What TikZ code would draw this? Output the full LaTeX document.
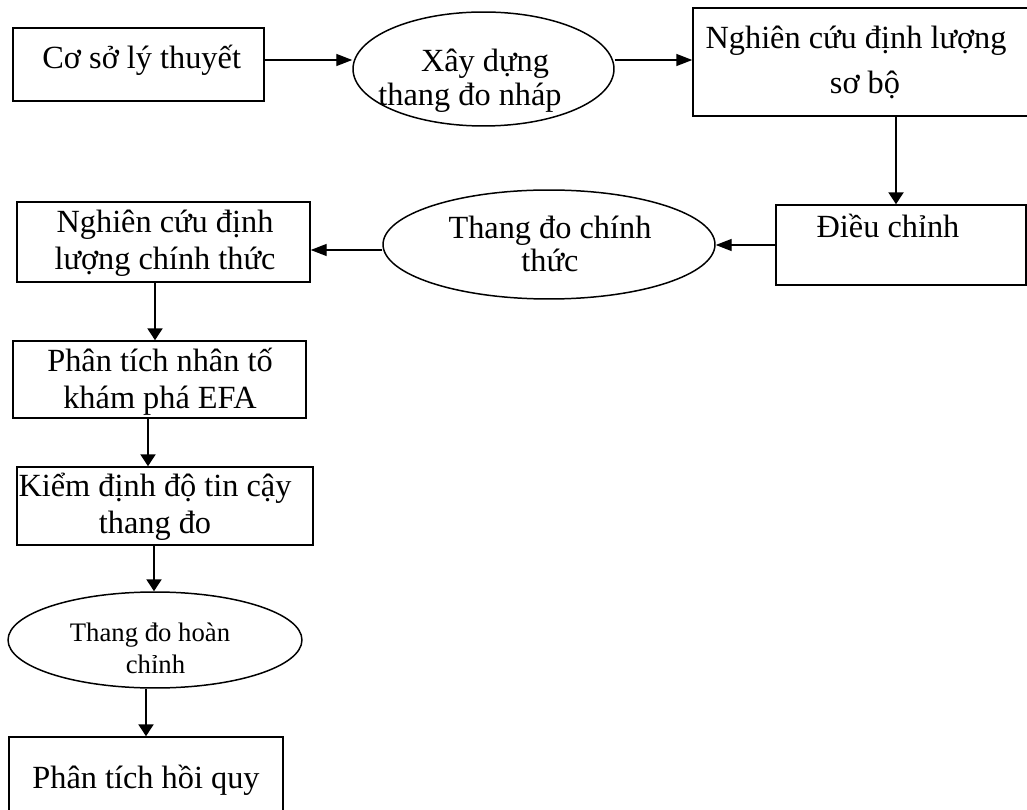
\documentclass[tikz,border=0pt]{standalone}
\usepackage{fontspec}
\setmainfont{Liberation Serif}
\usepackage{tikz}
\usetikzlibrary{positioning,calc}
\usetikzlibrary{arrows.meta,shapes.geometric}
\tikzset{
  box/.style={draw=black,line width=0.85pt,inner sep=0pt},
  oval/.style={ellipse,draw=black,line width=0.85pt,inner sep=0pt},
  txt/.style={anchor=base,align=center,inner sep=0pt,font=\fontsize{18.4}{20.7}\selectfont},
  smalltxt/.style={txt,font=\fontsize{15.2}{17.9}\selectfont},
  harr/.style={draw=black,line width=0.8pt,-{Triangle[length=0.32cm,width=0.24cm]}},
  varr/.style={draw=black,line width=1.3pt,-{Triangle[length=0.24cm,width=0.3cm]}},
}

\begin{document}
\begin{tikzpicture}[x=0.02cm,y=-0.02cm]
\clip (0,0) rectangle (1027,810);
\node[box,minimum width=5.02cm,minimum height=1.46cm] (cs) at (138.5,64.5) {};
\node[oval,minimum width=5.22cm,minimum height=2.28cm] (xd) at (483.5,69) {};
\node[box,minimum width=6.74cm,minimum height=2.16cm] (nc) at (861.5,62) {};
\node[box,minimum width=5cm,minimum height=1.6cm] (dc) at (901,245) {};
\node[oval,minimum width=6.64cm,minimum height=2.18cm] (td) at (549,244.5) {};
\node[box,minimum width=5.86cm,minimum height=1.6cm] (ncct) at (163.5,242) {};
\node[box,minimum width=5.86cm,minimum height=1.54cm] (efa) at (159.5,379.5) {};
\node[box,minimum width=5.92cm,minimum height=1.56cm] (kd) at (165,506) {};
\node[oval,minimum width=5.88cm,minimum height=1.92cm] (thc) at (155,640) {};
\node[box,minimum width=5.48cm,minimum height=1.86cm] (hq) at (146,783.5) {};
\node[txt] (cs-t) at (141.7,68.3) {Cơ sở lý thuyết};
\node[txt] (xd-t) at (470,106) {\hspace*{0.6cm}Xây dựng\\[-1.2pt]thang đo nháp};
\node[txt] (nc-t) at (856,94) {Nghiên cứu định lượng\\[5.4pt]\hspace*{0.36cm}sơ bộ};
\node[txt] (dc-t) at (888,238) {Điều chỉnh};
\node[txt] (td-t) at (550,271.7) {Thang đo chính\\[-1.6pt]thức};
\node[txt] (ncct-t) at (165,269.3) {Nghiên cứu định\\lượng chính thức};
\node[txt] (efa-t) at (160,408.3) {Phân tích nhân tố\\khám phá EFA};
\node[txt] (kd-t) at (155,533.3) {Kiểm định độ tin cậy\\thang đo};
\node[smalltxt] (thc-t) at (150,673.3) {Thang đo hoàn\\\hspace*{0.22cm}chỉnh};
\node[txt] (hq-t) at (146,788) {Phân tích hồi quy};
\draw[harr] (cs.east |- 0,60) -- (xd.west |- 0,60);
\draw[harr] (xd.east |- 0,60) -- (nc.west |- 0,60);
\draw[varr] (nc.south -| 896,0) -- (dc.north -| 896,0);
\draw[harr] (dc.west) -- (dc.west -| td.east);
\draw[harr] (td.west |- 0,250) -- (ncct.east |- 0,250);
\draw[varr] (ncct.south -| 155,0) -- (efa.north -| 155,0);
\draw[varr] (efa.south -| 148,0) -- (kd.north -| 148,0);
\draw[varr] (kd.south -| 154,0) -- (thc.north -| 154,0);
\draw[varr] (thc.south -| 146,0) -- (hq.north -| 146,0);
\end{tikzpicture}
\end{document}
